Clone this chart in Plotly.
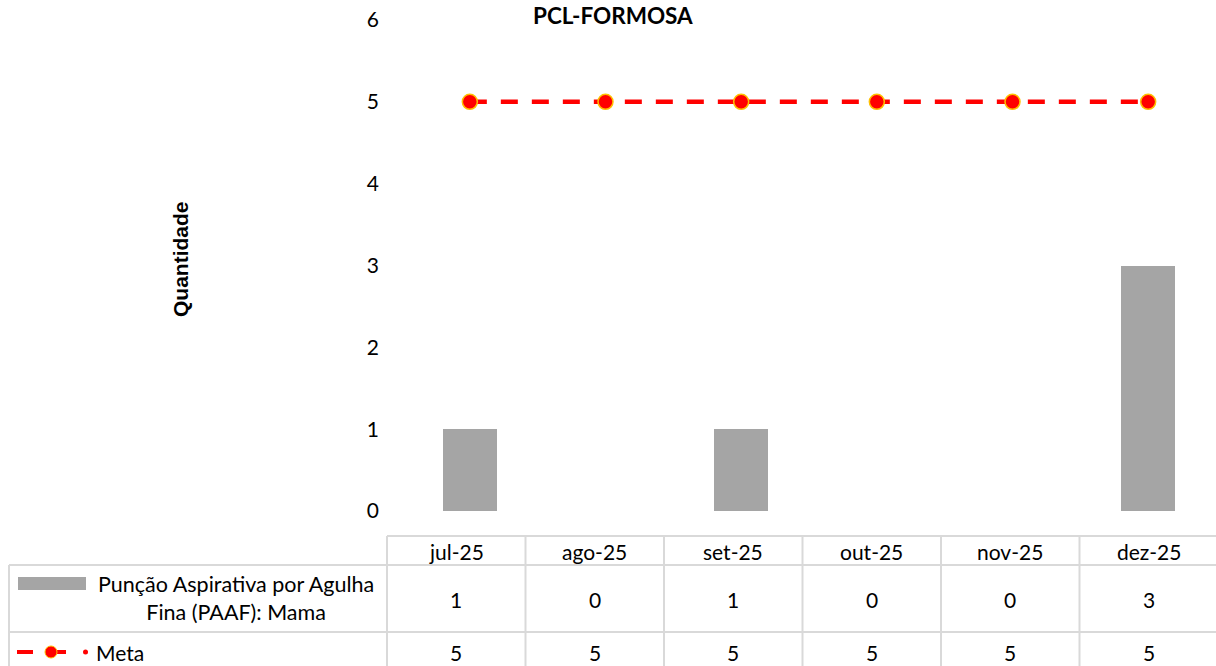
import plotly.graph_objects as go

categories = ["jul-25", "ago-25", "set-25", "out-25", "nov-25", "dez-25"]
paaf = [1, 0, 1, 0, 0, 3]
meta = [5, 5, 5, 5, 5, 5]
series_paaf = "Punção Aspirativa por Agulha Fina (PAAF): Mama"
series_meta = "Meta"
title = "PCL-FORMOSA"
y_title = "Quantidade"

W, H = 1216, 666
OFF = 0  # body margin removed via post_script
FONT = "Lato"
FS = 21
GRID = "#D9D9D9"


def px(x):
    return (x - OFF) / W


def py(y):
    return 1 - (y - OFF) / H


fig = go.Figure()
fig.add_trace(go.Bar(x=categories, y=paaf, name=series_paaf, width=0.4,
                     marker=dict(color="#A5A5A5", line=dict(width=0))))
fig.add_trace(go.Scatter(x=categories, y=meta, name=series_meta, mode="lines+markers",
                         line=dict(color="#FF0000", width=4.5, dash="17px,14px"),
                         marker=dict(size=15, color="#FF0000",
                                     line=dict(color="#FFC000", width=1.5))))

shapes = []
annotations = []

# table geometry
t_left, t_right = 387, 1218
col_w = (t_right - t_left) / len(categories)
row_top, row_h1, row_h2, row_bot = 536, 565, 632, 672
leg_left = 8


def hline(x0, x1, y):
    shapes.append(dict(type="line", xref="paper", yref="paper", x0=px(x0), x1=px(x1),
                       y0=py(y), y1=py(y), line=dict(color=GRID, width=2)))


def vline(x, y0, y1):
    shapes.append(dict(type="line", xref="paper", yref="paper", x0=px(x), x1=px(x),
                       y0=py(y0), y1=py(y1), line=dict(color=GRID, width=2)))


def text(x, y, s, xanchor="center", size=FS, angle=0, align="center"):
    annotations.append(dict(x=px(x), y=py(y), xref="paper", yref="paper", text=s,
                            xanchor=xanchor, yanchor="middle", textangle=angle, align=align,
                            showarrow=False, font=dict(size=size, color="#000", family=FONT)))


hline(t_left, t_right, row_top)
hline(leg_left + 1, t_right, row_h1)
hline(leg_left + 1, t_right, row_h2)
vline(leg_left + 1, row_h1, row_bot)
for i in range(len(categories) + 1):
    vline(t_left + col_w * i, row_top, row_bot)

for i, c in enumerate(categories):
    cx = t_left + col_w * (i + 0.5)
    text(cx, 551, c)
    text(cx, 599, str(paaf[i]))
    text(cx, 652, str(meta[i]))

# legend keys
shapes.append(dict(type="rect", xref="paper", yref="paper", x0=px(18), x1=px(86),
                   y0=py(590), y1=py(577), fillcolor="#A5A5A5", line=dict(width=0)))
text(236, 598, "Punção Aspirativa por Agulha<br>Fina (PAAF): Mama", size=21.5)
ly = 652
shapes.append(dict(type="line", xref="paper", yref="paper", x0=px(17), x1=px(33),
                   y0=py(ly), y1=py(ly), line=dict(color="#FF0000", width=4)))
shapes.append(dict(type="line", xref="paper", yref="paper", x0=px(48), x1=px(66),
                   y0=py(ly), y1=py(ly), line=dict(color="#FF0000", width=4)))
shapes.append(dict(type="circle", xref="paper", yref="paper", x0=px(45), x1=px(57),
                   y0=py(ly + 6), y1=py(ly - 6), fillcolor="#FF0000",
                   line=dict(color="#FFC000", width=1)))
shapes.append(dict(type="circle", xref="paper", yref="paper", x0=px(83), x1=px(88),
                   y0=py(ly + 2.5), y1=py(ly - 2.5), fillcolor="#FF0000",
                   line=dict(width=0)))
text(94, ly, series_meta, xanchor="left")

# title (kept fully visible, hugging the top edge) and y title
annotations.append(dict(x=px(613), y=1.0, xref="paper", yref="paper", text="<b>" + title + "</b>",
                        xanchor="center", yanchor="top", showarrow=False,
                        font=dict(size=22.5, color="#000", family=FONT)))
annotations.append(dict(x=px(181), y=py(259), xref="paper", yref="paper", text="<b>" + y_title + "</b>",
                        xanchor="center", yanchor="middle", textangle=-90, showarrow=False,
                        font=dict(size=21, color="#000", family="Liberation Sans")))

fig.update_layout(
    width=W, height=H,
    margin=dict(l=0, r=0, t=0, b=0, autoexpand=False),
    paper_bgcolor="white", plot_bgcolor="white",
    showlegend=False,
    font=dict(family=FONT, size=FS, color="#000"),
    xaxis=dict(domain=[px(402), min(1.0, px(1217))], range=[-0.5, 5.5], showticklabels=False,
               showgrid=False, zeroline=False, showline=False, ticks="", automargin=False),
    yaxis=dict(domain=[py(511), py(20)], range=[0, 6], dtick=1, showgrid=False,
               zeroline=False, showline=False, ticks="", ticklabelstandoff=22,
               ticklabeloverflow="allow", tickfont=dict(size=FS), automargin=False),
    shapes=shapes, annotations=annotations,
    bargap=0,
)

fig.write_html("out.html", config={"displayModeBar": False},
               post_script="document.body.style.margin='0';")
